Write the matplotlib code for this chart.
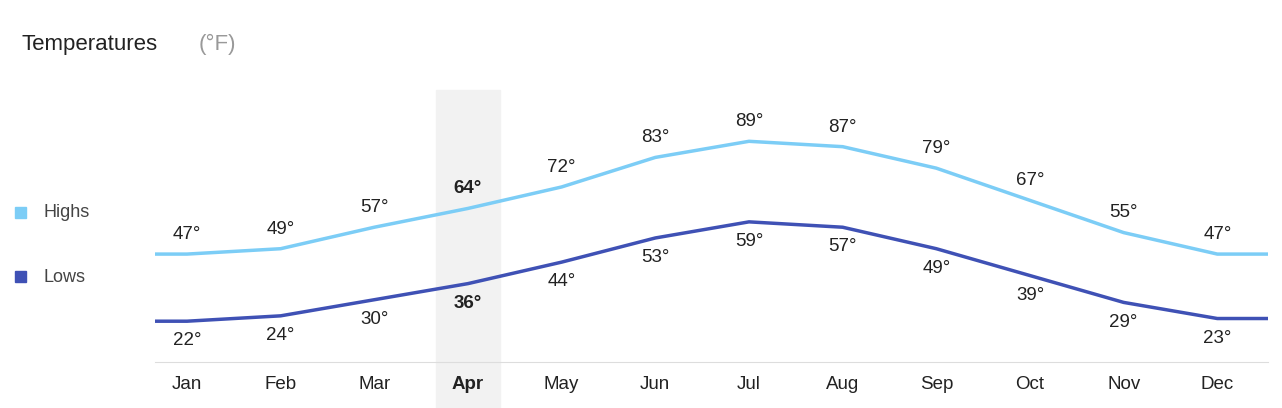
import numpy as np
import matplotlib.pyplot as plt
from matplotlib.patches import Rectangle

plt.rcParams['font.family'] = ['Liberation Sans', 'DejaVu Sans']

months = ["Jan", "Feb", "Mar", "Apr", "May", "Jun", "Jul", "Aug", "Sep", "Oct", "Nov", "Dec"]
highs = [47, 49, 57, 64, 72, 83, 89, 87, 79, 67, 55, 47]
lows = [22, 24, 30, 36, 44, 53, 59, 57, 49, 39, 29, 23]
hi_col = "#7ccdf6"
lo_col = "#3f51b5"
sel = 3  # Apr

fig = plt.figure(figsize=(12.82, 4.08), dpi=100)
ax = fig.add_axes([0.121, 0.1127, 0.868, 0.666])
x = np.arange(len(months))
xl = (-0.34, 11.54)
ax.set_xlim(*xl)
ax.set_ylim(6.8, 108)

# highlighted month band, runs down past the axis
ax.add_patch(Rectangle((sel - 0.34, -0.2), 0.68, 1.2, transform=ax.get_xaxis_transform(),
                       color="#f2f2f2", zorder=0, clip_on=False))

xe = np.concatenate([[xl[0]], x, [xl[1]]])
ax.plot(xe, [highs[0]] + highs + [highs[-1]], color=hi_col, lw=2.5, zorder=2)
ax.plot(xe, [lows[0]] + lows + [lows[-1]], color=lo_col, lw=2.5, zorder=2)

for i in x:
    w = "bold" if i == sel else "normal"
    ax.annotate(f"{highs[i]}°", (i, highs[i]), xytext=(0, 8), textcoords="offset points",
                ha="center", va="bottom", fontsize=13.5, fontweight=w, color="#222")
    ax.annotate(f"{lows[i]}°", (i, lows[i]), xytext=(0, -8), textcoords="offset points",
                ha="center", va="top", fontsize=13.5, fontweight=w, color="#222")

for s in ["top", "right", "left"]:
    ax.spines[s].set_visible(False)
ax.spines["bottom"].set_color("#dddddd")
ax.set_yticks([])
ax.set_xticks(x)
ax.set_xticklabels(months, fontsize=13.5, color="#222")
ax.tick_params(axis="x", length=0, pad=10)
ax.get_xticklabels()[sel].set_fontweight("bold")

fig.text(0.017, 0.89, "Temperatures", fontsize=16, color="#222", va="center")
fig.text(0.155, 0.89, "(°F)", fontsize=16, color="#999", va="center")

fig.patches.append(Rectangle((0.012, 0.465), 0.0085, 0.027, transform=fig.transFigure, color=hi_col))
fig.patches.append(Rectangle((0.012, 0.308), 0.0085, 0.027, transform=fig.transFigure, color=lo_col))
fig.text(0.034, 0.478, "Highs", fontsize=13, color="#444", va="center")
fig.text(0.034, 0.321, "Lows", fontsize=13, color="#444", va="center")

fig.savefig("out.png", dpi=100)
